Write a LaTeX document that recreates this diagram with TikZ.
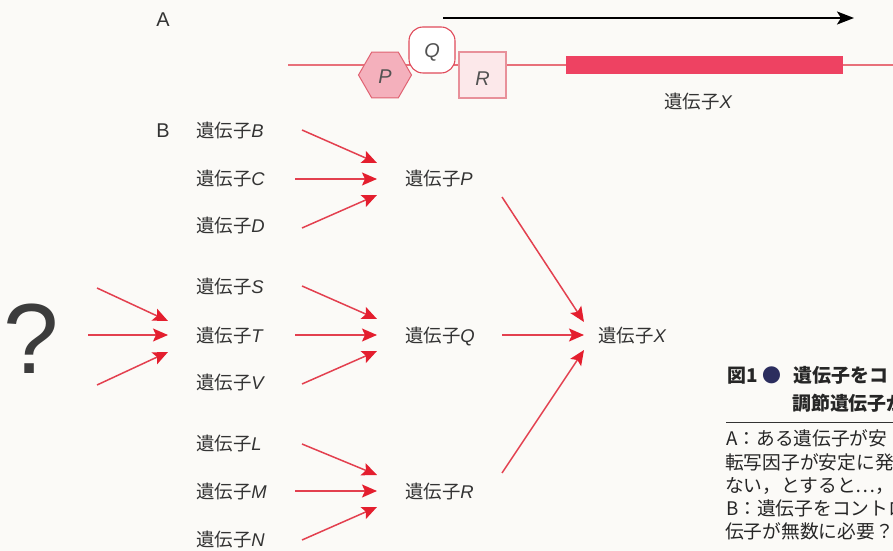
\documentclass[tikz,border=0pt]{standalone}
\usepackage{fontspec}
\newfontfamily\jp{Noto Sans CJK JP}
\newfontfamily\lat{Liberation Sans}
\usetikzlibrary{arrows.meta,shapes.geometric,calc}
\definecolor{bg}{HTML}{FBFAF7}
\definecolor{txtgray}{HTML}{333333}
\definecolor{arrred}{HTML}{E3404F}
\definecolor{headred}{HTML}{E41E2E}
\definecolor{thinred}{HTML}{E8707A}
\definecolor{hexfill}{HTML}{F4B0BC}
\definecolor{hexdraw}{HTML}{E06272}
\definecolor{qdraw}{HTML}{E04A5A}
\definecolor{rfill}{HTML}{FCE8EA}
\definecolor{rdraw}{HTML}{E8909A}
\definecolor{barred}{HTML}{EE4262}
\definecolor{navy}{HTML}{2B2D5E}
\definecolor{qgray}{HTML}{3C3C3C}
\newcommand\gene[1]{{\jp 遺伝子}{\lat\itshape #1}}
\tikzset{
  lbl/.style={inner sep=0pt, anchor=west, text height=14bp, text depth=0pt,
    font=\fontsize{18.5}{20}\selectfont, text=txtgray},
  arr/.style={draw=arrred, line width=1.5bp,
    -{Stealth[length=15bp,width=13bp,inset=3bp,fill=headred,color=headred]}},
  letter/.style={inner sep=0pt, text height=14bp, text depth=0pt,
    font=\lat\itshape\fontsize{20}{22}\selectfont, text=txtgray!85},
  bigletter/.style={inner sep=0pt, text height=14bp, text depth=0pt,
    font=\lat\fontsize{20}{22}\selectfont, text=txtgray},
  cap head/.style={inner sep=0pt, anchor=west, text height=15bp, text depth=0pt,
    font=\jp\bfseries\fontsize{19}{22}\selectfont, text=black!85},
  cap body/.style={inner sep=0pt, anchor=west, text height=14.5bp, text depth=0pt,
    font=\jp\fontsize{18.8}{22}\selectfont, text=black!85},
}
\begin{document}
\begin{tikzpicture}[x=1bp,y=-1bp]
\useasboundingbox (0,0) rectangle (893,551);
\clip (0,0) rectangle (893,551);
\fill[bg] (0,0) rectangle (893,551);

% ---------- A ----------
\node[bigletter] (lblA) at (163,20) {A};
\coordinate (aS) at (443,18);
\coordinate (aE) at (854,18);
\draw[line width=2bp, -{Stealth[length=17bp,width=13bp,inset=4bp]}] (aS) -- (aE);

\coordinate (lineL) at (288,65);
\coordinate (lineR) at (893,65);
\draw[thinred, line width=1.3bp] (lineL) -- (lineR);

\node[regular polygon, regular polygon sides=6, minimum size=53bp, inner sep=0pt,
  fill=hexfill, draw=hexdraw, line width=1bp] (hexP) at (385,75) {};
\node[draw=qdraw, fill=white, line width=1.1bp, rounded corners=14bp,
  minimum size=46bp, inner sep=0pt] (boxQ) at (432,50) {};
\node[draw=rdraw, fill=rfill, line width=1.1bp, minimum width=47bp,
  minimum height=46bp, inner sep=0pt] (boxR) at (482.5,75) {};
\node[letter] (lP) at ([yshift=-2bp]hexP.center) {P};
\node[letter] (lQ) at ([yshift=-1bp]boxQ.center) {Q};
\node[letter] (lR) at ([yshift=-4bp]boxR.center) {R};

\node[fill=barred, minimum width=277bp, minimum height=18bp, inner sep=0pt,
  anchor=west] (barX) at (566,65) {};
\node[lbl, anchor=center] (capX) at (698,102) {\gene{X}};

% ---------- B ----------
\node[bigletter] (lblB) at (163,131) {B};

\node[lbl] (gB) at (196,131) {\gene{B}};
\node[lbl] (gC) at (196,179) {\gene{C}};
\node[lbl] (gD) at (196,226) {\gene{D}};
\node[lbl] (gS) at (196,287) {\gene{S}};
\node[lbl] (gT) at (196,335) {\gene{T}};
\node[lbl] (gV) at (196,382) {\gene{V}};
\node[lbl] (gL) at (196,443) {\gene{L}};
\node[lbl] (gM) at (196,491) {\gene{M}};
\node[lbl] (gN) at (196,539) {\gene{N}};

\node[lbl] (gP) at (405,179) {\gene{P}};
\node[lbl] (gQ) at (405,335) {\gene{Q}};
\node[lbl] (gR) at (405,491) {\gene{R}};
\node[lbl] (gX) at (598,335) {\gene{X}};

\node[inner sep=0pt, font=\lat\fontsize{100}{110}\selectfont, text=qgray,
  text height=74bp, text depth=0pt] (qm) at (31.5,336.5) {?};

% arrows into P
\draw[arr] ($(gP.west)+(-103,-49)$) -- ($(gP.west)+(-28,-16)$);
\draw[arr] ($(gP.west)+(-110,0)$) -- ($(gP.west)+(-28,0)$);
\draw[arr] ($(gP.west)+(-103,49)$) -- ($(gP.west)+(-28,16)$);
% arrows into Q
\draw[arr] ($(gQ.west)+(-103,-49)$) -- ($(gQ.west)+(-28,-16)$);
\draw[arr] ($(gQ.west)+(-110,0)$) -- ($(gQ.west)+(-28,0)$);
\draw[arr] ($(gQ.west)+(-103,49)$) -- ($(gQ.west)+(-28,16)$);
% arrows into R
\draw[arr] ($(gR.west)+(-103,-47)$) -- ($(gR.west)+(-28,-16)$);
\draw[arr] ($(gR.west)+(-110,0)$) -- ($(gR.west)+(-28,0)$);
\draw[arr] ($(gR.west)+(-103,49)$) -- ($(gR.west)+(-28,16)$);
% arrows from ? into T
\draw[arr] ($(gT.west)+(-99,-47)$) -- ($(gT.west)+(-28,-14)$);
\draw[arr] ($(gT.west)+(-108,0)$) -- ($(gT.west)+(-28,0)$);
\draw[arr] ($(gT.west)+(-99,50)$) -- ($(gT.west)+(-28,17)$);
% arrows into X
\draw[arr] ($(gP.west)+(97,18)$) -- ($(gX.west)+(-14,-13)$);
\draw[arr] ($(gQ.west)+(97,0)$) -- ($(gX.west)+(-14,0)$);
\draw[arr] ($(gR.west)+(97,-18)$) -- ($(gX.west)+(-14,15)$);

% ---------- caption ----------
\node[cap head] (h1) at (727,375) {図1\hspace{5bp}{\color{navy}●}\hspace{12bp}遺伝子をコ};
\node[cap head] (h2) at (792,403) {調節遺伝子が};
\coordinate (ruleL) at (726,422);
\coordinate (ruleR) at (893,422);
\draw[black!80, line width=0.9bp] (ruleL) -- (ruleR);
\node[cap body] (c1) at (726,438) {A：ある遺伝子が安};
\node[cap body] (c2) at (725,462) {転写因子が安定に発};
\node[cap body] (c3) at (725,485) {ない，とすると…，};
\node[cap body] (c4) at (726,508) {B：遺伝子をコントロ};
\node[cap body] (c5) at (725,531) {伝子が無数に必要？};
\end{tikzpicture}
\end{document}
